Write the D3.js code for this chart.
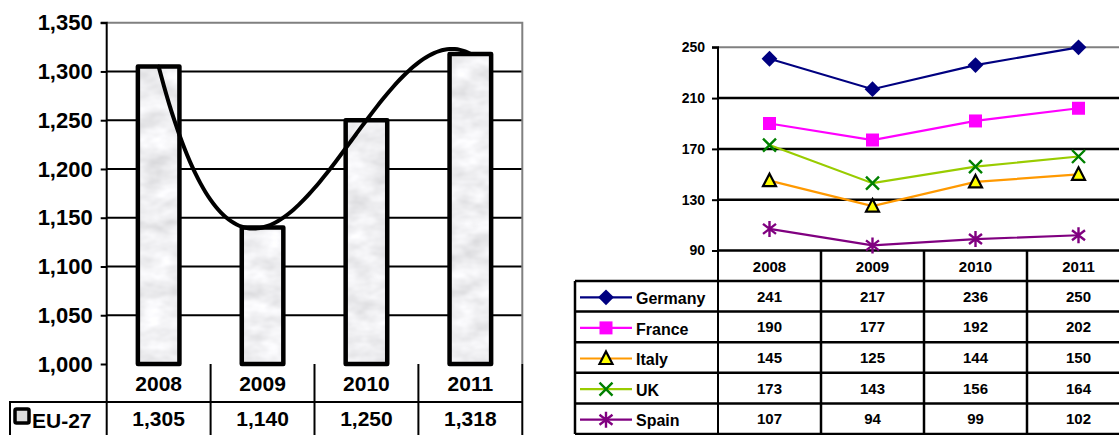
<!DOCTYPE html>
<html>
<head>
<meta charset="utf-8">
<script src="https://cdn.jsdelivr.net/npm/d3@7"></script>
<style>
  body { margin: 0; background: #fff; }
  text { font-family: Arial, "Liberation Sans", sans-serif; font-weight: bold; fill: #000; }
</style>
</head>
<body>
<div class="chart"></div>
<script>
// ---- data ----
var years = ["2008", "2009", "2010", "2011"];
var eu27 = [1305, 1140, 1250, 1318];
var euTicks = [1000, 1050, 1100, 1150, 1200, 1250, 1300, 1350];

var countries = ["Germany", "France", "Italy", "UK", "Spain"];
var germany = [241, 217, 236, 250];
var france = [190, 177, 192, 202];
var italy = [145, 125, 144, 150];
var uk = [173, 143, 156, 164];
var spain = [107, 94, 99, 102];
var countryTicks = [90, 130, 170, 210, 250];

var svg = d3.select(".chart").append("svg")
  .attr("width", 1119)
  .attr("height", 435);

// marble-ish texture for the bars
var defs = svg.append("defs");
var filt = defs.append("filter").attr("id", "noise")
  .attr("x", 0).attr("y", 0).attr("width", "100%").attr("height", "100%");
filt.append("feTurbulence")
  .attr("type", "fractalNoise")
  .attr("baseFrequency", "0.035 0.06")
  .attr("numOctaves", 3)
  .attr("seed", 4);
filt.append("feColorMatrix")
  .attr("type", "matrix")
  .attr("values", "0.45 0 0 0 0.64  0.45 0 0 0 0.64  0.45 0 0 0 0.66  0 0 0 0 1");
defs.append("pattern").attr("id", "marble")
  .attr("patternUnits", "userSpaceOnUse")
  .attr("width", 1119).attr("height", 435)
  .append("rect")
  .attr("width", 1119).attr("height", 435)
  .attr("filter", "url(#noise)");

// =========================== left chart (EU-27) ===========================
var L = { left: 106.7, right: 522.3, top: 22.7, bottom: 364, row1: 402, row2: 440, legendLeft: 10 };

var yLeft = d3.scaleLinear().domain([1000, 1350]).range([L.bottom, L.top]);
var xLeft = d3.scaleBand().domain(years).range([L.left, L.right]).padding(0);
var barW = xLeft.bandwidth() * 0.4;

var left = svg.append("g");

// gridlines
left.selectAll(".grid")
  .data(euTicks.filter(d => d > 1000 && d < 1350))
  .enter().append("line")
  .attr("x1", L.left).attr("x2", L.right)
  .attr("y1", d => yLeft(d)).attr("y2", d => yLeft(d))
  .attr("stroke", "#000").attr("stroke-width", 2);

// gray top/right border
left.append("path")
  .attr("d", `M${L.left},${L.top}H${L.right}V${L.bottom}`)
  .attr("fill", "none").attr("stroke", "#808080").attr("stroke-width", 2);

// axis
var leftAxis = d3.axisLeft(yLeft).tickValues(euTicks).tickFormat(d3.format(",")).tickSize(6).tickPadding(8);
var la = left.append("g").attr("transform", `translate(${L.left},0)`).call(leftAxis);
la.select(".domain").attr("stroke-width", 2).attr("d", `M-6,${L.top}H0V${L.row2}`);
la.selectAll(".tick line").attr("stroke-width", 2);
la.selectAll(".tick text").attr("font-size", 22).attr("font-family", null);

// bars
left.selectAll(".bar")
  .data(eu27)
  .enter().append("rect")
  .attr("x", (d, i) => xLeft(years[i]) + (xLeft.bandwidth() - barW) / 2)
  .attr("y", d => yLeft(d))
  .attr("width", barW)
  .attr("height", d => L.bottom - yLeft(d))
  .attr("fill", "url(#marble)")
  .attr("stroke", "#000")
  .attr("stroke-width", 4.5)
  .attr("stroke-linejoin", "round");

// polynomial (order 3) trendline through the 4 values, Newton form
var d1 = eu27.slice(1).map((v, i) => v - eu27[i]);
var d2 = d1.slice(1).map((v, i) => (v - d1[i]) / 2);
var d3c = (d2[1] - d2[0]) / 3;
function poly(t) {
  return eu27[0] + d1[0] * t + d2[0] * t * (t - 1) + d3c * t * (t - 1) * (t - 2);
}
var trend = d3.range(0, 3.0001, 0.05);
var x0 = xLeft(years[0]) + xLeft.bandwidth() / 2;
var line = d3.line()
  .x(t => x0 + t * xLeft.step())
  .y(t => yLeft(poly(t)))
  .curve(d3.curveCatmullRom);
left.append("path")
  .attr("d", line(trend))
  .attr("fill", "none")
  .attr("stroke", "#000")
  .attr("stroke-width", 4)
  .attr("stroke-linecap", "round");

// data table under the chart
left.append("path")
  .attr("d", `M${L.legendLeft},${L.row2}V${L.row1}H${L.right}M${L.right},${L.bottom}V${L.row2}`)
  .attr("fill", "none").attr("stroke", "#000").attr("stroke-width", 2);
left.selectAll(".col")
  .data(years.slice(1))
  .enter().append("line")
  .attr("x1", d => xLeft(d)).attr("x2", d => xLeft(d))
  .attr("y1", L.bottom).attr("y2", L.row2)
  .attr("stroke", "#000").attr("stroke-width", 2);
left.selectAll(".yr")
  .data(years)
  .enter().append("text")
  .attr("x", d => xLeft(d) + xLeft.bandwidth() / 2)
  .attr("y", (L.bottom + L.row1) / 2)
  .attr("dy", "0.36em")
  .attr("text-anchor", "middle")
  .attr("font-size", 21)
  .text(d => d);
left.selectAll(".val")
  .data(eu27)
  .enter().append("text")
  .attr("x", (d, i) => xLeft(years[i]) + xLeft.bandwidth() / 2)
  .attr("y", 418)
  .attr("dy", "0.36em")
  .attr("text-anchor", "middle")
  .attr("font-size", 21)
  .text(d => d3.format(",")(d));
// legend key
left.append("rect")
  .attr("x", 15).attr("y", 409).attr("width", 14).attr("height", 14)
  .attr("fill", "#ddd").attr("stroke", "#000").attr("stroke-width", 3.5).attr("rx", 1.5);
left.append("text")
  .attr("x", 32).attr("y", 420).attr("dy", "0.36em")
  .attr("font-size", 21)
  .text("EU-27");

// =========================== right chart (countries) ===========================
var R = { left: 718, right: 1130, top: 47.3, bottom: 250.5, row: 281, rowH: 30.6, legendLeft: 575 };

var yRight = d3.scaleLinear().domain([90, 250]).range([R.bottom, R.top]);
var xRight = d3.scaleBand().domain(years).range([R.left, R.right]).padding(0);
var cx = d => xRight(d) + xRight.bandwidth() / 2;

var right = svg.append("g");

right.selectAll(".grid")
  .data(countryTicks.filter(d => d < 250))
  .enter().append("line")
  .attr("x1", R.left).attr("x2", R.right)
  .attr("y1", d => yRight(d)).attr("y2", d => yRight(d))
  .attr("stroke", "#000").attr("stroke-width", 2.5);
right.append("line")
  .attr("x1", R.left).attr("x2", R.right)
  .attr("y1", R.top).attr("y2", R.top)
  .attr("stroke", "#808080").attr("stroke-width", 2);

var rightAxis = d3.axisLeft(yRight).tickValues(countryTicks).tickSize(6).tickPadding(7);
var ra = right.append("g").attr("transform", `translate(${R.left},0)`).call(rightAxis);
ra.select(".domain").attr("stroke-width", 2).attr("d", `M-6,${R.top}H0V${R.row + R.rowH * 5}`);
ra.selectAll(".tick line").attr("stroke-width", 2);
ra.selectAll(".tick text").attr("font-size", 14).attr("font-family", null);

var series = [
  { name: countries[0], values: germany, color: "#000080", marker: "diamond" },
  { name: countries[1], values: france, color: "#ff00ff", marker: "square" },
  { name: countries[2], values: italy, color: "#ff9900", marker: "triangle" },
  { name: countries[3], values: uk, color: "#99cc00", marker: "x" },
  { name: countries[4], values: spain, color: "#800080", marker: "star" }
];

function drawMarker(g, s) {
  if (s.marker == "diamond") {
    g.append("path").attr("d", d3.symbol(d3.symbolSquare, 125)())
      .attr("transform", "rotate(45)").attr("fill", s.color);
  } else if (s.marker == "square") {
    g.append("path").attr("d", d3.symbol(d3.symbolSquare, 169)()).attr("fill", s.color);
  } else if (s.marker == "triangle") {
    g.append("path").attr("d", "M0,-7L6.5,5.5L-6.5,5.5Z")
      .attr("fill", "#ffff00").attr("stroke", "#000").attr("stroke-width", 2.2);
  } else if (s.marker == "x") {
    g.append("path").attr("d", "M-6.5,-6.5L6.5,6.5M-6.5,6.5L6.5,-6.5")
      .attr("stroke", "#008000").attr("stroke-width", 2.4);
  } else {
    g.append("path").attr("d", "M-6.5,-5L6.5,5M-6.5,5L6.5,-5M0,-8V8")
      .attr("stroke", s.color).attr("stroke-width", 2.4);
  }
}

var lineR = d3.line()
  .x((d, i) => cx(years[i]))
  .y(d => yRight(d));

series.forEach(function (s) {
  right.append("path")
    .attr("d", lineR(s.values))
    .attr("fill", "none")
    .attr("stroke", s.color)
    .attr("stroke-width", 2.2);
  s.values.forEach(function (v, i) {
    var g = right.append("g").attr("transform", `translate(${cx(years[i])},${yRight(v)})`);
    drawMarker(g, s);
  });
});

// data table
var tableBottom = R.row + R.rowH * 5;
right.selectAll(".hline")
  .data(d3.range(6))
  .enter().append("line")
  .attr("x1", R.legendLeft).attr("x2", R.right)
  .attr("y1", d => R.row + d * R.rowH).attr("y2", d => R.row + d * R.rowH)
  .attr("stroke", "#000").attr("stroke-width", 2.5);
right.append("line")
  .attr("x1", R.legendLeft).attr("x2", R.legendLeft)
  .attr("y1", R.row).attr("y2", tableBottom)
  .attr("stroke", "#000").attr("stroke-width", 2.5);
right.selectAll(".col")
  .data(years.slice(1))
  .enter().append("line")
  .attr("x1", d => xRight(d)).attr("x2", d => xRight(d))
  .attr("y1", R.bottom).attr("y2", tableBottom)
  .attr("stroke", "#000").attr("stroke-width", 2.5);
right.selectAll(".yr")
  .data(years)
  .enter().append("text")
  .attr("x", d => cx(d))
  .attr("y", (R.bottom + R.row) / 2 + 1)
  .attr("dy", "0.36em")
  .attr("text-anchor", "middle")
  .attr("font-size", 15)
  .text(d => d);

series.forEach(function (s, r) {
  var yc = R.row + R.rowH * r + R.rowH / 2 + 1;
  right.append("line")
    .attr("x1", 580).attr("x2", 632)
    .attr("y1", yc).attr("y2", yc)
    .attr("stroke", s.color).attr("stroke-width", 2.2);
  drawMarker(right.append("g").attr("transform", `translate(606,${yc})`), s);
  right.append("text")
    .attr("x", 636).attr("y", yc + 1).attr("dy", "0.36em")
    .attr("font-size", 16)
    .text(s.name);
  right.selectAll(".v" + r)
    .data(s.values)
    .enter().append("text")
    .attr("x", (d, i) => cx(years[i]))
    .attr("y", yc - 1)
    .attr("dy", "0.36em")
    .attr("text-anchor", "middle")
    .attr("font-size", 15)
    .text(d => d);
});
</script>
</body>
</html>
